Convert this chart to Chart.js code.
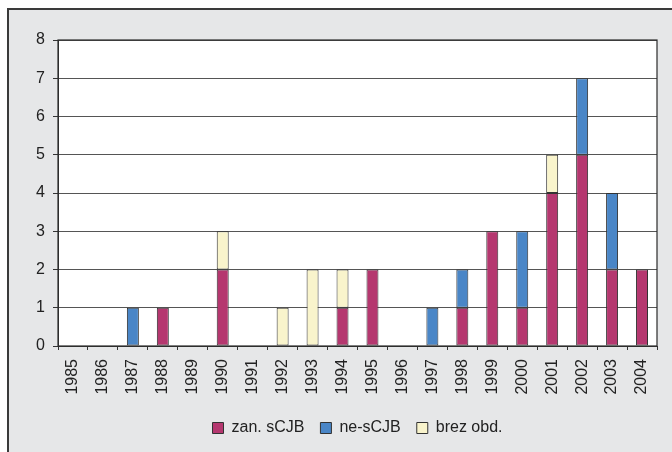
<!DOCTYPE html>
<html>
<head>
<meta charset="utf-8">
<script src="https://cdn.jsdelivr.net/npm/chart.js@4/dist/chart.umd.min.js"></script>
<style>
  html, body { margin: 0; padding: 0; background: #ffffff; }
  #frame {
    position: absolute; left: 7px; top: 8px;
    width: 663px; height: 442px;
    background: #e6e7e8;
    border-top: 2px solid #3a3a3a;
    border-left: 2px solid #3a3a3a;
  }
  canvas { display: block; }
</style>
</head>
<body>
<div id="frame"><canvas id="c" width="663" height="442"></canvas></div>
<script>
const years = ['1985','1986','1987','1988','1989','1990','1991','1992','1993','1994',
               '1995','1996','1997','1998','1999','2000','2001','2002','2003','2004'];
const zanSCJB  = [0,0,0,1,0,2,0,0,0,1,2,0,0,1,3,1,4,5,2,2];
const neSCJB   = [0,0,1,0,0,0,0,0,0,0,0,0,1,1,0,2,0,2,2,0];
const brezObd  = [0,0,0,0,0,1,0,1,2,1,0,0,0,0,0,0,1,0,0,0];
const yTicks   = [0,1,2,3,4,5,6,7,8];

const FONT = { family: '"Liberation Sans", Arial, sans-serif', size: 16 };

// white plot area with a dark frame around it; legend centred under the plot
const plotFrame = {
  id: 'plotFrame',
  afterLayout(chart) {
    const lg = chart.legend, a = chart.chartArea;
    if (lg) { lg.left = a.left; lg.right = a.right; }
  },
  beforeDraw(chart) {
    const a = chart.chartArea, ctx = chart.ctx;
    ctx.save();
    ctx.fillStyle = '#ffffff';
    ctx.fillRect(a.left, a.top, a.right - a.left, a.bottom - a.top);
    ctx.restore();
  },
  afterDatasetsDraw(chart) {
    const a = chart.chartArea, ctx = chart.ctx;
    ctx.save();
    ctx.strokeStyle = '#2b2b2b';
    ctx.lineWidth = 1.2;
    ctx.strokeRect(a.left, a.top, a.right - a.left, a.bottom - a.top);
    ctx.restore();
  }
};

const bar = (label, data, color) => ({
  label, data,
  backgroundColor: color,
  borderColor: '#333333',
  borderWidth: 1,
  borderSkipped: false,
  categoryPercentage: 1.0,
  barPercentage: 0.4
});

new Chart(document.getElementById('c'), {
  type: 'bar',
  data: {
    labels: years,
    datasets: [
      bar('zan. sCJB', zanSCJB, '#b5376f'),
      bar('ne-sCJB',   neSCJB,  '#4a86c7'),
      bar('brez obd.', brezObd, '#f9f4cc')
    ]
  },
  options: {
    responsive: false,
    animation: false,
    devicePixelRatio: 1,
    layout: { padding: { left: 0, right: 15, top: 30, bottom: 6 } },
    plugins: {
      legend: {
        position: 'bottom',
        labels: {
          font: FONT, color: '#222222',
          boxWidth: 11, boxHeight: 11, padding: 16,
          generateLabels(chart) {
            return chart.data.datasets.map((d, i) => ({
              text: d.label, fillStyle: d.backgroundColor,
              strokeStyle: '#333333', lineWidth: 1, datasetIndex: i, fontColor: '#222222'
            }));
          }
        }
      },
      tooltip: { enabled: false }
    },
    scales: {
      x: {
        stacked: true,
        grid: { display: true, drawOnChartArea: false, drawTicks: true, tickLength: 4, color: '#333333', offset: true },
        border: { display: true, color: '#333333', width: 1 },
        ticks: { font: FONT, color: '#222222', minRotation: 90, maxRotation: 90, autoSkip: false, padding: 9 },
        afterFit(s) { s.height = 58; }
      },
      y: {
        stacked: true,
        min: 0, max: 8,
        afterBuildTicks(s) { s.ticks = yTicks.map(v => ({ value: v })); },
        grid: { color: '#555555', lineWidth: 1, drawTicks: true, tickLength: 5, tickColor: '#333333' },
        border: { display: true, color: '#333333', width: 1 },
        ticks: { font: FONT, color: '#222222', padding: 8 },
        afterFit(s) { s.width = 49; }
      }
    }
  },
  plugins: [plotFrame]
});
</script>
</body>
</html>
